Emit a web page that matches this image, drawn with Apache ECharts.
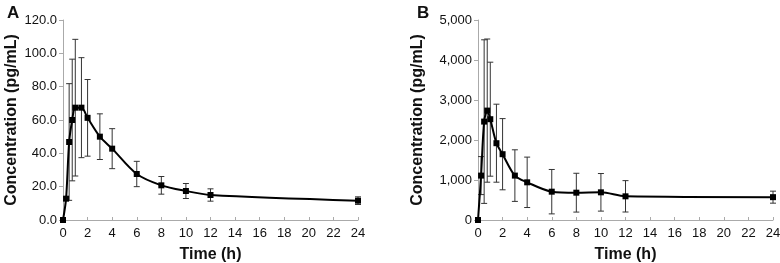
<!DOCTYPE html>
<html>
<head>
<meta charset="utf-8">
<script src="https://cdn.jsdelivr.net/npm/echarts@6/dist/echarts.min.js"></script>
<style>
html,body{margin:0;padding:0;background:#fff;}
#c{width:780px;height:263px;}
</style>
</head>
<body>
<div id="c"></div>
<script>
var times = [0, 0.25, 0.5, 0.75, 1, 1.5, 2, 3, 4, 6, 8, 10, 12, 24];
var meanA = [0, 12.8, 46.8, 60, 67.4, 67.4, 61.3, 50, 42.8, 27.6, 20.8, 17.4, 15, 11.6];
var sdA   = [0, 1, 35, 36.5, 41, 30, 23, 13.7, 12, 7.6, 5.3, 4.5, 3.7, 2.3];
var meanB = [0, 1110, 2460, 2735, 2520, 1920, 1645, 1110, 942, 708, 683, 692, 592, 571];
var sdB   = [0, 475, 2045, 1790, 1425, 975, 890, 645, 630, 555, 485, 470, 392, 150];
var yTicksA = [0, 20, 40, 60, 80, 100, 120];
var yTicksB = [0, 1000, 2000, 3000, 4000, 5000];

function pts(m){ return times.map(function(t,i){ return [t, m[i]]; }); }
function errs(m, s){ return times.map(function(t,i){ return [t, m[i]-s[i], m[i]+s[i]]; }); }

function errRender(params, api){
  var x = api.value(0), lo = api.value(1), hi = api.value(2);
  var p1 = api.coord([x, lo]), p2 = api.coord([x, hi]);
  var w = 3;
  var st = {stroke:'#333', lineWidth:1};
  return {type:'group', children:[
    {type:'line', shape:{x1:p1[0], y1:p1[1], x2:p2[0], y2:p2[1]}, style:st},
    {type:'line', shape:{x1:p1[0]-w, y1:p1[1], x2:p1[0]+w, y2:p1[1]}, style:st},
    {type:'line', shape:{x1:p2[0]-w, y1:p2[1], x2:p2[0]+w, y2:p2[1]}, style:st}
  ]};
}

var axisLabelStyle = {fontFamily:'Liberation Sans', fontSize:13, color:'#111'};
var axisLineStyle = {lineStyle:{color:'#aaa', width:1}};
var nameStyle = {fontFamily:'Liberation Sans', fontSize:16, fontWeight:'bold', color:'#111'};

function xAxis(idx){
  return {type:'value', gridIndex:idx, min:0, max:24, interval:2,
    axisLine:axisLineStyle, axisTick:{show:true, inside:true, length:3, lineStyle:{color:'#aaa'}},
    splitLine:{show:false}, axisLabel:Object.assign({margin:7}, axisLabelStyle),
    name:'Time (h)', nameLocation:'middle', nameGap:27, nameTextStyle:nameStyle};
}

var chart = echarts.init(document.getElementById('c'), null, {renderer:'canvas'});
chart.setOption({
  animation:false,
  backgroundColor:'#fff',
  title:[
    {text:'A', left:2, top:0, textStyle:{fontFamily:'Liberation Sans', fontSize:17, fontWeight:'bold', color:'#111'}},
    {text:'B', left:412, top:0, textStyle:{fontFamily:'Liberation Sans', fontSize:17, fontWeight:'bold', color:'#111'}}
  ],
  grid:[
    {left:63, top:20, width:295, height:200, outerBoundsMode:'none', containLabel:false},
    {left:478, top:20, width:295, height:200, outerBoundsMode:'none', containLabel:false}
  ],
  xAxis:[xAxis(0), xAxis(1)],
  yAxis:[
    {type:'value', gridIndex:0, min:yTicksA[0], max:yTicksA[yTicksA.length-1], interval:20,
     axisLine:{show:true, lineStyle:{color:'#aaa'}}, axisTick:{show:true, length:4, lineStyle:{color:'#aaa'}},
     splitLine:{show:false},
     axisLabel:Object.assign({margin:6, formatter:function(v){return v.toFixed(1);}}, axisLabelStyle),
     name:'Concentration (pg/mL)', nameLocation:'middle', nameGap:43, nameTextStyle:nameStyle},
    {type:'value', gridIndex:1, min:yTicksB[0], max:yTicksB[yTicksB.length-1], interval:1000,
     axisLine:{show:true, lineStyle:{color:'#aaa'}}, axisTick:{show:true, length:4, lineStyle:{color:'#aaa'}},
     splitLine:{show:false},
     axisLabel:Object.assign({margin:6, formatter:function(v){return v.toLocaleString('en-US');}}, axisLabelStyle),
     name:'Concentration (pg/mL)', nameLocation:'middle', nameGap:52, nameTextStyle:nameStyle}
  ],
  series:[
    {type:'custom', xAxisIndex:0, yAxisIndex:0, data:errs(meanA, sdA), renderItem:errRender, z:1},
    {type:'line', xAxisIndex:0, yAxisIndex:0, data:pts(meanA), smooth:0.3, symbol:'rect', symbolSize:6,
     lineStyle:{color:'#000', width:2}, itemStyle:{color:'#000'}, z:2},
    {type:'custom', xAxisIndex:1, yAxisIndex:1, data:errs(meanB, sdB), renderItem:errRender, z:1},
    {type:'line', xAxisIndex:1, yAxisIndex:1, data:pts(meanB), smooth:0.3, symbol:'rect', symbolSize:6,
     lineStyle:{color:'#000', width:2}, itemStyle:{color:'#000'}, z:2}
  ]
});
</script>
</body>
</html>
